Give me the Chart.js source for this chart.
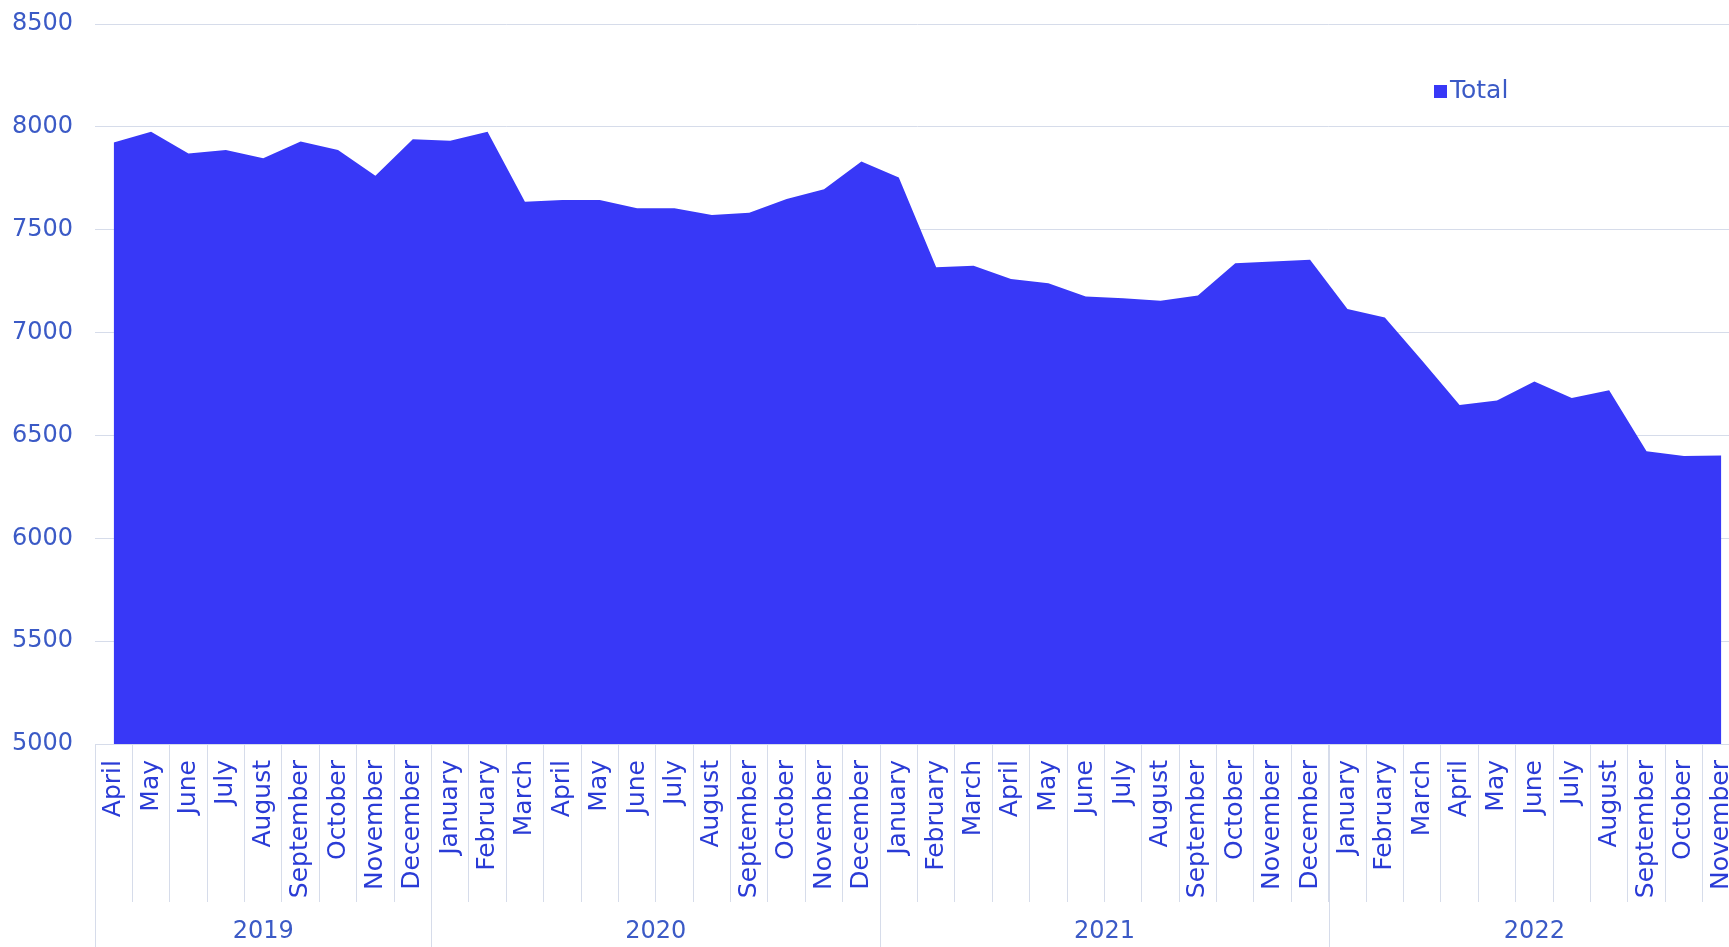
<!DOCTYPE html>
<html lang="en">
  <head>
    <title>Total per month</title>
    <meta charset="utf-8">
    <script type="text/javascript" src="https://cdn.jsdelivr.net/npm/chart.js@4.4.0/dist/chart.umd.min.js"></script>
    <style>
      html, body { margin: 0; padding: 0; background: #ffffff; overflow: hidden; }
      #wrap { position: relative; width: 1744px; height: 947px; }
    </style>
  </head>
  <body>
    <div id="wrap"><canvas id="chart_total"></canvas></div>

    <script language="javascript" type="text/javascript">

      // month labels, April 2019 .. November 2022
      const monthLabels = [
        "April", "May", "June", "July", "August", "September", "October", "November", "December",
        "January", "February", "March", "April", "May", "June", "July", "August", "September", "October", "November", "December",
        "January", "February", "March", "April", "May", "June", "July", "August", "September", "October", "November", "December",
        "January", "February", "March", "April", "May", "June", "July", "August", "September", "October", "November"
      ];
      const yearLabels = ["2019", "2020", "2021", "2022"];
      const yearSpans  = [9, 12, 12, 11];

      const totalValues = [
        7924, 7976, 7871, 7888, 7848, 7929, 7888, 7762, 7940,
        7932, 7976, 7636, 7644, 7644, 7604, 7604, 7571, 7583, 7649, 7697, 7832,
        7754, 7317, 7325, 7261, 7240, 7175, 7167, 7155, 7180, 7337, 7346, 7354,
        7115, 7073, 6863, 6648, 6670, 6762, 6682, 6720, 6423, 6400, 6403
      ];
      const yTicks = [5000, 5500, 6000, 6500, 7000, 7500, 8000, 8500];

      const areaColor  = "#3838f7";
      const gridColor  = "#d6dcea";
      const monthColor = "#2a3bd6";
      const labelColor = "#3b5ac6";
      const fontFamily = '"DejaVu Sans", Verdana, sans-serif';

      // keep the plot box where the reference has it
      function noPadding(scale) {
        scale.paddingTop = 0;
        scale.paddingBottom = 0;
        scale.paddingLeft = 0;
        scale.paddingRight = 0;
      }

      // draws the year row under the month labels and the legend box
      const yearRow = {
        id: "yearRow",
        afterDraw(chart) {
          let ctx = chart.ctx;
          let x = chart.scales.x;
          let area = chart.chartArea;
          let step = x.width / monthLabels.length;
          ctx.save();
          ctx.strokeStyle = gridColor;
          ctx.lineWidth = 1;
          ctx.fillStyle = labelColor;
          ctx.font = "24px " + fontFamily;
          ctx.textAlign = "center";
          ctx.textBaseline = "middle";
          let start = 0;
          yearLabels.forEach(function(yr, k) {
            let left = x.getPixelForValue(start) - step / 2;
            let right = x.getPixelForValue(start + yearSpans[k] - 1) + step / 2;
            let lx = Math.round(left) + 0.5;
            ctx.beginPath();
            ctx.moveTo(lx, area.bottom);
            ctx.lineTo(lx, chart.height);
            ctx.stroke();
            ctx.fillText(yr, (left + right) / 2, area.bottom + 188);
            start += yearSpans[k];
          });

          // legend
          let ds = chart.data.datasets[0];
          let lgX = area.right - 306, lgY = area.top + 61;
          ctx.fillStyle = ds.backgroundColor;
          ctx.fillRect(lgX, lgY, 13, 13);
          ctx.fillStyle = labelColor;
          ctx.font = "25px " + fontFamily;
          ctx.textAlign = "left";
          ctx.textBaseline = "middle";
          ctx.fillText(ds.label, lgX + 16, lgY + 6);
          ctx.restore();
        }
      };

      chart = new Chart("chart_total", {
        type: "line",
        data: {
          labels: monthLabels,
          datasets: [
            {
              label: "Total",
              data: totalValues,
              fill: "start",
              backgroundColor: areaColor,
              borderColor: areaColor,
              borderWidth: 0,
              pointRadius: 0,
              tension: 0
            }
          ]
        },
        options: {
          responsive: true,
          maintainAspectRatio: false,
          animation: false,
          layout: { padding: { top: 24, right: 4, bottom: 0, left: 0 } },
          plugins: { legend: { display: false }, tooltip: { enabled: false } },
          scales: {
            x: {
              type: "category",
              offset: true,
              afterFit: function(scale) { scale.height = 203; noPadding(scale); },
              grid: { drawOnChartArea: false, offset: true, tickLength: 158, color: gridColor },
              border: { display: true, color: gridColor },
              ticks: {
                autoSkip: false,
                minRotation: 90,
                maxRotation: 90,
                padding: -142,
                color: monthColor,
                font: { family: fontFamily, size: 25 }
              }
            },
            y: {
              min: 5000,
              max: 8500,
              afterFit: function(scale) { scale.width = 95; noPadding(scale); },
              afterBuildTicks: function(scale) { scale.ticks = yTicks.map(v => ({ value: v })); },
              grid: { drawTicks: false, color: gridColor },
              border: { display: false },
              ticks: {
                padding: 22,
                color: labelColor,
                font: { family: fontFamily, size: 24 },
                callback: function(v) { return String(v); }
              }
            }
          }
        },
        plugins: [yearRow]
      });

    </script>
  </body>
</html>
